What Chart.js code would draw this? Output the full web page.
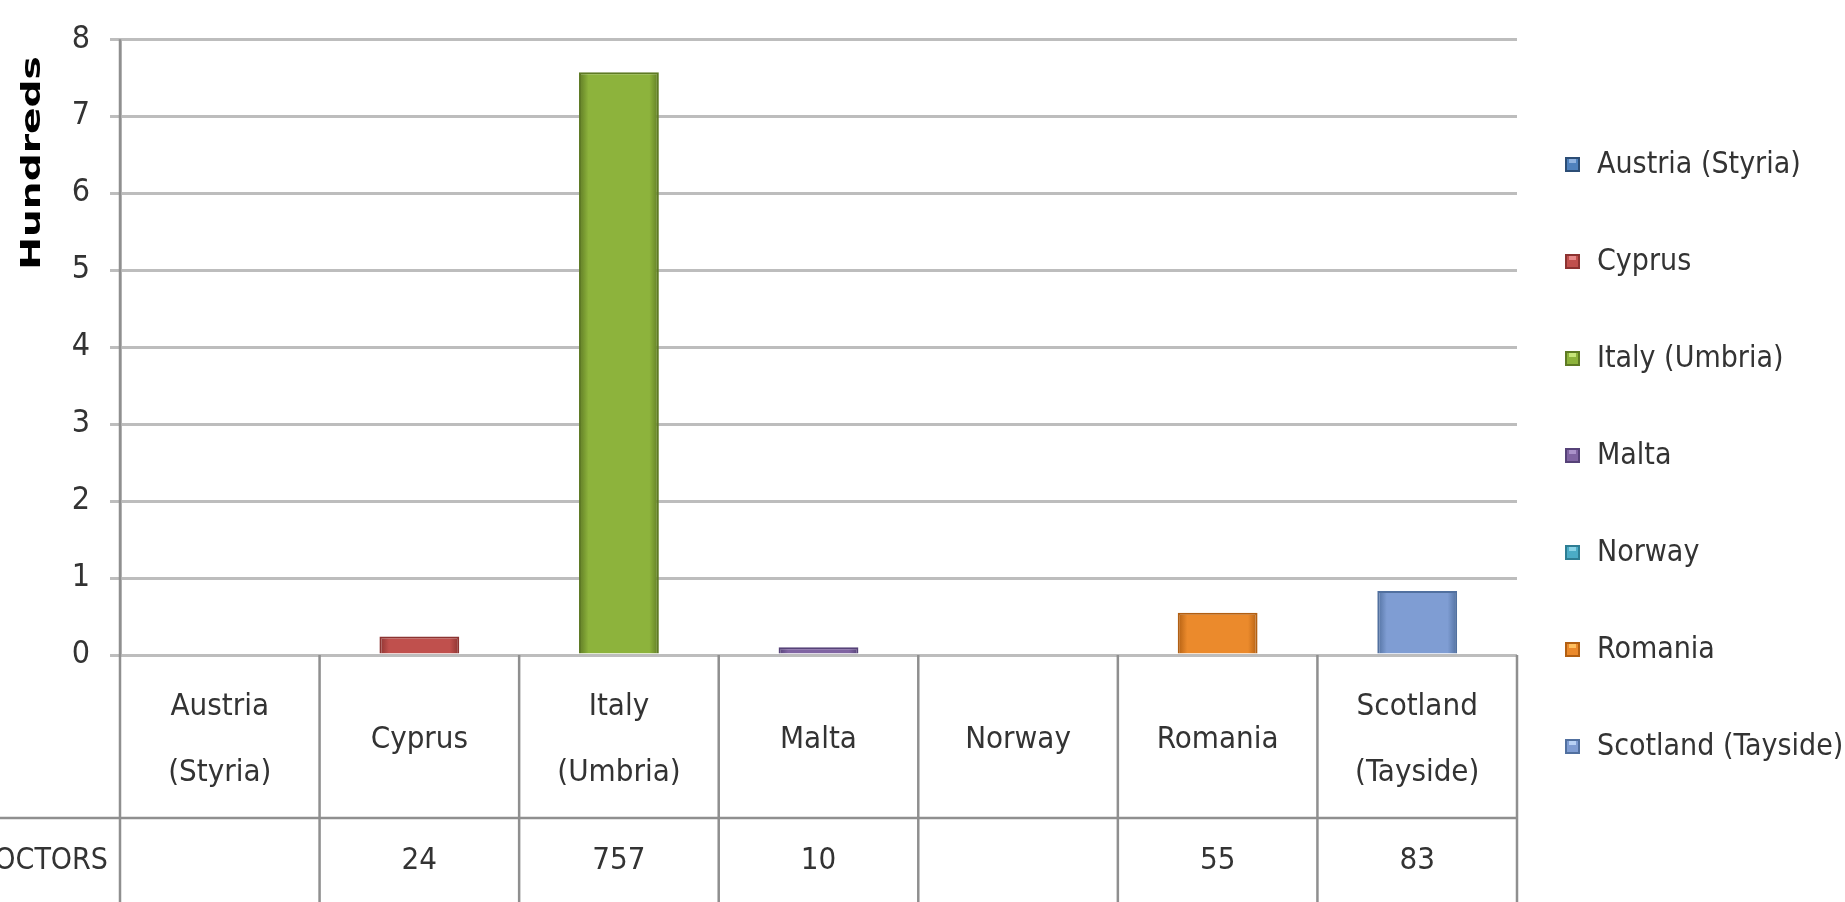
<!DOCTYPE html>
<html lang="en">
<head>
    <meta charset="UTF-8">
    <title>Doctors by region</title>
    <script src="https://cdn.jsdelivr.net/npm/chart.js"></script>
    <style>
        html, body { margin: 0; padding: 0; background: #fff; }
        #wrap { width: 1845px; height: 902px; }
    </style>
</head>
<body>
<div id="wrap"><canvas id="chart" width="1845" height="902"></canvas></div>
<script>
    // data
    const regions = ['Austria (Styria)', 'Cyprus', 'Italy (Umbria)', 'Malta', 'Norway', 'Romania', 'Scotland (Tayside)'];
    const regionLines = [['Austria', '(Styria)'], ['Cyprus'], ['Italy', '(Umbria)'], ['Malta'], ['Norway'], ['Romania'], ['Scotland', '(Tayside)']];
    const doctors = [null, 24, 757, 10, null, 55, 83];
    const rowLabel = 'DOCTORS';
    const axisTitle = 'Hundreds';
    const yTicks = [0, 100, 200, 300, 400, 500, 600, 700, 800];
    const colors = ['#4F81BD', '#C0504D', '#8DB33C', '#8064A2', '#4BACC6', '#EB8A2C', '#7F9DD3'];
    const lights = ['#8FB2E0', '#E8898A', '#C6E57A', '#AA92C9', '#8AD3E6', '#FFC060', '#B9D2F5'];
    const edges = ['#2C4D75', '#8C3331', '#5E7A24', '#564278', '#2E7D93', '#B25F12', '#51709F'];

    const FONT = "'Liberation Sans Narrow', 'DejaVu Sans Condensed', sans-serif";
    const gridGrey = '#bdbdbd';
    const lineGrey = '#8f8f8f';

    // shiny look of the Excel bars: dark sides, lighter middle
    function barFill(context) {
        const chart = context.chart;
        const i = context.dataIndex;
        if (!chart.chartArea || !chart.scales.x) return colors[i];
        const cx = chart.scales.x.getPixelForValue(i);
        const g = chart.ctx.createLinearGradient(cx - 40, 0, cx + 40, 0);
        g.addColorStop(0, edges[i]);
        g.addColorStop(0.12, colors[i]);
        g.addColorStop(0.5, colors[i]);
        g.addColorStop(0.88, colors[i]);
        g.addColorStop(1, edges[i]);
        return g;
    }

    // table under the plot, axis title and legend on the right
    const tablePlugin = {
        id: 'tablePlugin',
        afterDraw(chart) {
            const ctx = chart.ctx;
            const area = chart.chartArea;
            const x = chart.scales.x;
            const n = regions.length;
            const colW = (area.right - area.left) / n;
            const top = area.bottom;
            const mid = 818;
            const bottom = chart.height;

            ctx.save();
            ctx.strokeStyle = lineGrey;
            ctx.lineWidth = 2.5;
            ctx.beginPath();
            ctx.moveTo(0, mid); ctx.lineTo(area.right, mid);
            for (let i = 0; i <= n; i++) {
                const px = area.left + i * colW;
                ctx.moveTo(px, i === 0 ? area.top : top);
                ctx.lineTo(px, bottom);
            }
            ctx.stroke();

            ctx.fillStyle = '#333';
            ctx.textAlign = 'center';
            ctx.textBaseline = 'middle';
            ctx.font = '31px ' + FONT;
            regionLines.forEach((lines, i) => {
                const cx = x.getPixelForValue(i);
                if (lines.length === 1) {
                    ctx.fillText(lines[0], cx, 740);
                } else {
                    ctx.fillText(lines[0], cx, 707);
                    ctx.fillText(lines[1], cx, 773);
                }
                if (doctors[i] !== null) ctx.fillText(String(doctors[i]), cx, 861);
            });
            ctx.textAlign = 'right';
            ctx.font = '30px ' + FONT;
            ctx.fillText(rowLabel, 108, 861);

            // y axis title, stretched along its length like the original
            ctx.save();
            ctx.translate(33, 163);
            ctx.rotate(-Math.PI / 2);
            ctx.scale(1.45, 1);
            ctx.textAlign = 'center';
            ctx.fillStyle = '#000';
            ctx.font = "bold 27px 'DejaVu Sans'";
            ctx.fillText(axisTitle, 0, 0);
            ctx.restore();

            // legend
            ctx.textAlign = 'left';
            ctx.font = '30px ' + FONT;
            regions.forEach((name, i) => {
                const cy = 165 + i * 97;
                ctx.fillStyle = edges[i];
                ctx.fillRect(1565, cy - 8, 15, 15);
                ctx.fillStyle = colors[i];
                ctx.fillRect(1567, cy - 6, 11, 11);
                ctx.fillStyle = lights[i];
                ctx.fillRect(1569, cy - 6, 7, 4);
                ctx.fillStyle = '#333';
                ctx.fillText(name, 1597, cy);
            });
            ctx.restore();
        }
    };

    const ctx = document.getElementById('chart').getContext('2d');
    const chart = new Chart(ctx, {
        type: 'bar',
        data: {
            labels: regions,
            datasets: [{
                label: rowLabel,
                data: doctors,
                backgroundColor: barFill,
                borderColor: edges,
                borderWidth: 2,
                categoryPercentage: 1,
                barPercentage: 0.4
            }]
        },
        options: {
            responsive: false,
            animation: false,
            layout: { padding: { left: 0, top: 39, right: 328, bottom: 247 } },
            plugins: {
                legend: { display: false },
                tooltip: { enabled: false }
            },
            scales: {
                x: { display: false },
                y: {
                    min: 0,
                    max: 800,
                    afterFit(scale) { scale.width = 120; },
                    afterBuildTicks(scale) { scale.ticks = yTicks.map(v => ({ value: v })); },
                    ticks: {
                        padding: 20,
                        color: '#333',
                        font: { family: FONT, size: 32 },
                        callback: v => v / 100
                    },
                    grid: { color: gridGrey, lineWidth: 3, tickLength: 10 },
                    border: { color: gridGrey, width: 3 }
                }
            }
        },
        plugins: [tablePlugin]
    });
</script>
</body>
</html>
